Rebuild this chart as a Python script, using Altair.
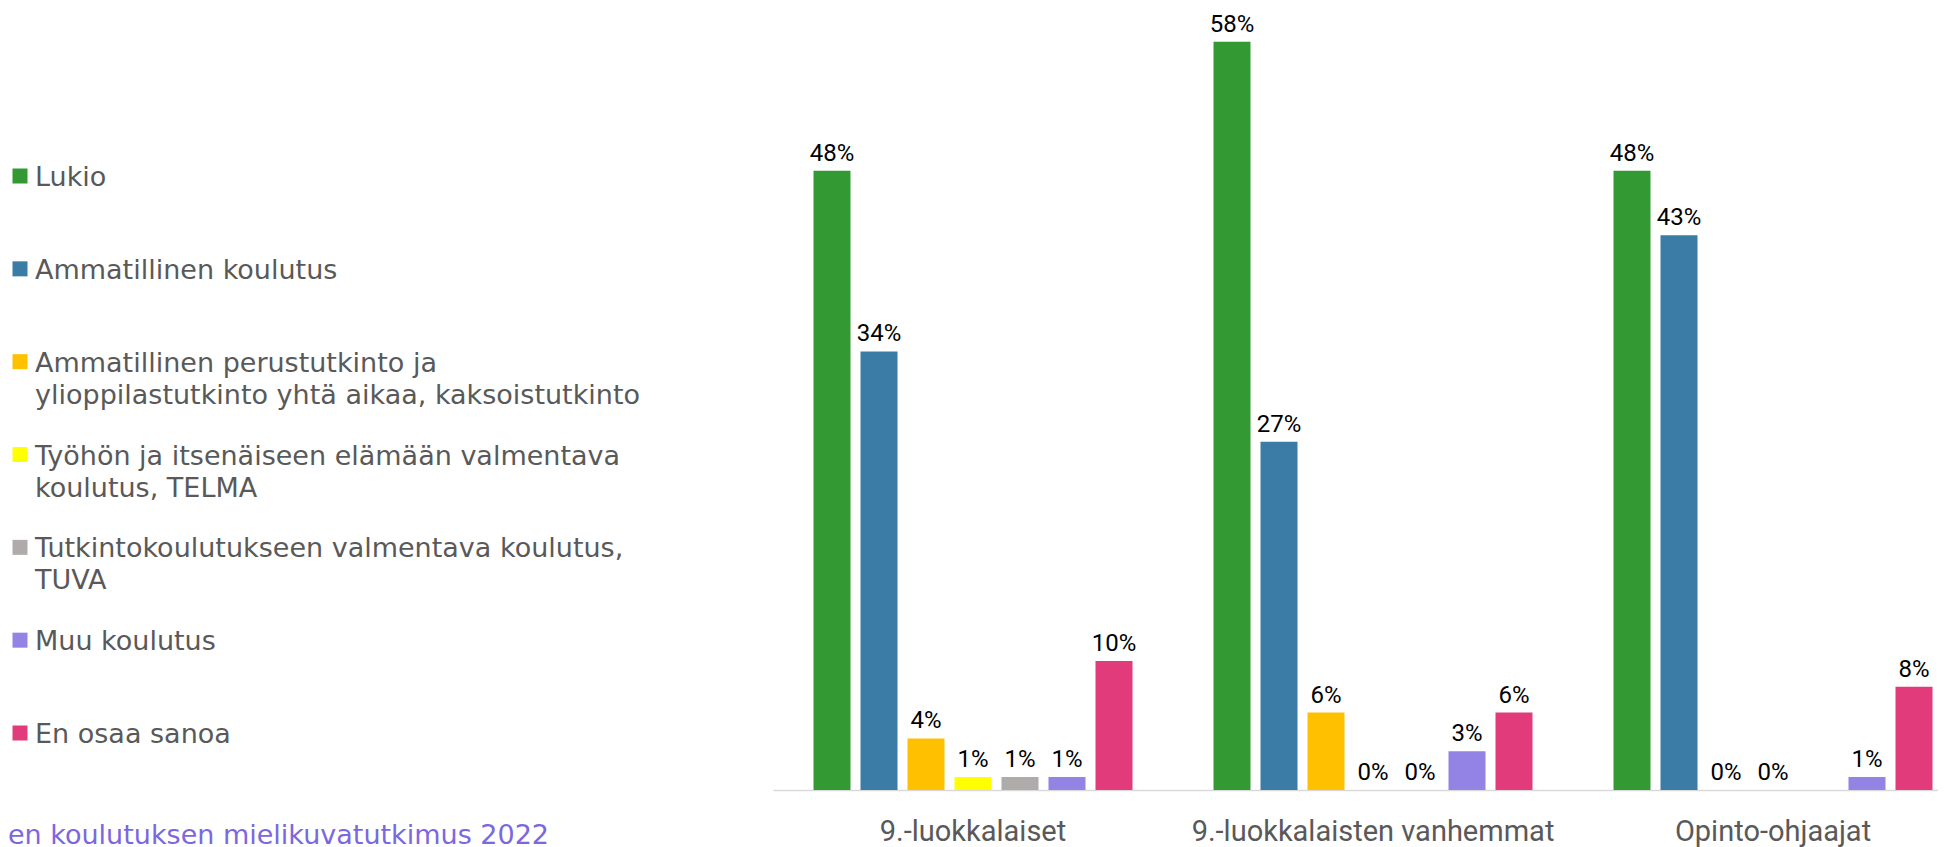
import altair as alt
import pandas as pd

groups = ["9.-luokkalaiset", "9.-luokkalaisten vanhemmat", "Opinto-ohjaajat"]
categories = [
    "Lukio",
    "Ammatillinen koulutus",
    "Ammatillinen perustutkinto ja ylioppilastutkinto yhtä aikaa, kaksoistutkinto",
    "Työhön ja itsenäiseen elämään valmentava koulutus, TELMA",
    "Tutkintokoulutukseen valmentava koulutus, TUVA",
    "Muu koulutus",
    "En osaa sanoa",
]
legend_lines = [
    "Lukio",
    "Ammatillinen koulutus",
    "Ammatillinen perustutkinto ja\nylioppilastutkinto yhtä aikaa, kaksoistutkinto",
    "Työhön ja itsenäiseen elämään valmentava\nkoulutus, TELMA",
    "Tutkintokoulutukseen valmentava koulutus,\nTUVA",
    "Muu koulutus",
    "En osaa sanoa",
]
colors = ["#339933", "#3A7CA5", "#FFC000", "#FFFF00", "#AFABAB", "#9383E5", "#E13B7B"]

values_9lk = [48, 34, 4, 1, 1, 1, 10]
values_vanhemmat = [58, 27, 6, 0, 0, 3, 6]
values_opo = [48, 43, 0, 0, None, 1, 8]

source_text = ["en koulutuksen mielikuvatutkimus 2022"]

rows = []
for g, vals in zip(groups, [values_9lk, values_vanhemmat, values_opo]):
    for c, v in zip(categories, vals):
        if v is None:
            continue
        rows.append({"group": g, "category": c, "value": v, "label": f"{v}%"})
df = pd.DataFrame(rows)

color_scale = alt.Scale(domain=categories, range=colors)

base = alt.Chart(df).encode(
    x=alt.X(
        "group:N",
        sort=groups,
        scale=alt.Scale(paddingInner=0.175, paddingOuter=0.04375, align=1),
        axis=alt.Axis(
            title=None,
            labelAngle=0,
            ticks=False,
            tickSize=0,
            domainColor="#D9D9D9",
            domainWidth=1.5,
            labelFont="Roboto",
            labelFontSize=29,
            labelColor="#595959",
            labelPadding=27,
            labelLimit=0,
            grid=False,
        ),
    ),
    xOffset=alt.XOffset(
        "category:N",
        sort=categories,
        scale=alt.Scale(paddingInner=0.2128, paddingOuter=0.117),
    ),
)

bars = base.mark_bar().encode(
    y=alt.Y("value:Q", scale=alt.Scale(domain=[0, 60], nice=False), axis=None),
    color=alt.Color("category:N", scale=color_scale, legend=None),
)
labels = base.mark_text(
    font="Roboto", fontSize=24, color="#000000", baseline="alphabetic", dy=-10
).encode(
    y=alt.Y("value:Q"),
    text="label:N",
)
bar_panel = alt.layer(bars, labels).properties(width=1165, height=774)

leg_df = pd.DataFrame(
    {"category": categories, "text": legend_lines, "order": list(range(len(categories)))}
)
leg_base = alt.Chart(leg_df).encode(
    y=alt.Y(
        "order:Q",
        scale=alt.Scale(domain=[-1.7236, 6.614], reverse=True, nice=False, zero=False),
        axis=None,
    )
)
leg_squares = leg_base.mark_square(size=225, opacity=1).encode(
    x=alt.value(12),
    color=alt.Color("category:N", scale=color_scale, legend=None),
)
leg_texts = leg_base.mark_text(
    align="left",
    baseline="alphabetic",
    dy=10,
    font="DejaVu Sans",
    fontSize=27,
    color="#595959",
    lineBreak="\n",
    lineHeight=32,
).encode(x=alt.value(27), text="text:N")

source = alt.Chart(pd.DataFrame({"text": source_text})).mark_text(
    align="left",
    baseline="alphabetic",
    font="DejaVu Sans",
    fontSize=27,
    color="#7B68E0",
).encode(x=alt.value(0), y=alt.value(828), text="text:N")

legend_panel = alt.layer(leg_squares, leg_texts, source).properties(width=700, height=774)

chart = (
    alt.hconcat(legend_panel, bar_panel, spacing=65)
    .properties(padding={"left": 0, "top": 4, "right": 0, "bottom": 0})
    .configure_view(stroke=None)
)

chart.save("out.html", embed_options={"renderer": "svg", "actions": False})
